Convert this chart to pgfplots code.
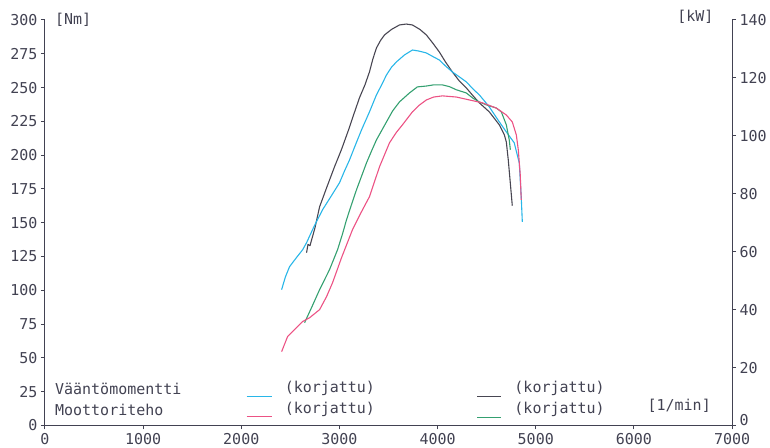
\documentclass[border=0pt]{standalone}
\usepackage{pgfplots}
\pgfplotsset{compat=1.18}
\usepackage{fontspec}
\setmainfont{DejaVu Sans Mono}

\definecolor{ink}{RGB}{66,66,82}
\definecolor{cdark}{RGB}{72,70,82}
\definecolor{ccyan}{RGB}{40,182,232}
\definecolor{cgreen}{RGB}{52,160,112}
\definecolor{cpink}{RGB}{236,82,132}

\newcommand{\dm}{\fontsize{15}{15}\selectfont}

\pgfplotsset{
  base/.style={
    width=688pt, height=406pt, scale only axis,
    xmin=0, xmax=7000,
    clip=false,
    tick align=outside,
    major tick length=4pt,
    axis line style={ink, line width=1.1pt, -},
    tick style={ink, line width=1pt},
    tick label style={font=\dm, text=ink},
    /pgf/number format/assume math mode=true,
    /pgf/number format/1000 sep={},
  },
  curve/.style={line width=1.1pt, line join=round},
}

\begin{document}
\begin{tikzpicture}
% torque axis (left)
\begin{axis}[base,
    axis x line*=bottom, axis y line*=left,
    ymin=0, ymax=300,
    xtick={0,1000,...,7000},
    ytick={0,25,...,300},
]
\path (rel axis cs:-0.0654,-0.0468) rectangle (rel axis cs:1.0538,1.0493);

% Vaeaentoemomentti, dark
\addplot[curve, cdark] coordinates {
 (2665,127.8) (2680,134) (2700,133) (2750,146) (2798,161.8) (2870,176) (2950,191.4)
 (3020,204) (3093,218.7) (3150,231) (3204,242.4) (3260,252) (3306,261.6)
 (3340,271) (3377,279.3) (3420,285) (3459,288.9) (3530,293) (3611,296.3)
 (3680,297) (3744,296.3) (3820,293) (3886,288.9) (3950,283) (4018,276.3)
 (4080,269) (4150,261.6) (4220,255) (4293,249.7) (4360,244) (4425,238.7)
 (4527,232) (4629,222.4) (4680,215) (4700,209.8) (4720,196.5) (4740,180)
 (4761,162.6)
};
% Vaeaentoemomentti, cyan
\addplot[curve, ccyan] coordinates {
 (2411,100.5) (2450,110) (2492,117.5) (2560,124) (2625,130) (2665,135.2)
 (2740,147) (2828,159.6) (2910,169) (3001,179.6) (3050,188) (3103,196.5)
 (3160,207) (3225,218.7) (3306,232) (3377,244.6) (3430,252) (3479,259.3)
 (3530,265) (3581,269) (3662,274.1) (3744,277.8) (3810,277) (3886,275.6)
 (3950,273) (4018,270.4) (4080,266) (4150,261.6) (4220,258) (4293,254.2)
 (4360,249) (4425,244.6) (4527,235.7) (4629,224.6) (4700,217.2) (4781,209.1)
 (4832,194.3) (4852,169.2) (4863,150.7)
};

% legend
\node[anchor=west, font=\dm, text=ink, inner sep=0pt] at (axis cs:102,27.3) {Vääntömomentti};
\node[anchor=west, font=\dm, text=ink, inner sep=0pt] at (axis cs:102,11.8) {Moottoriteho};
\draw[ccyan, line width=1.3pt] (axis cs:2055,21.4) -- (axis cs:2309,21.4);
\draw[cpink, line width=1.3pt] (axis cs:2055,6.7) -- (axis cs:2309,6.7);
\draw[cdark, line width=1.3pt] (axis cs:4405,21.4) -- (axis cs:4649,21.4);
\draw[cgreen, line width=1.3pt] (axis cs:4405,5.9) -- (axis cs:4649,5.9);
\node[anchor=west, font=\dm, text=ink, inner sep=0pt] at (axis cs:2441,27.3) {(korjattu)};
\node[anchor=west, font=\dm, text=ink, inner sep=0pt] at (axis cs:2441,11.8) {(korjattu)};
\node[anchor=west, font=\dm, text=ink, inner sep=0pt] at (axis cs:4781,27.3) {(korjattu)};
\node[anchor=west, font=\dm, text=ink, inner sep=0pt] at (axis cs:4781,11.8) {(korjattu)};
\node[anchor=east, font=\dm, text=ink, inner sep=0pt] at (axis cs:6785,14.8) {[1/min]};
\node[anchor=west, font=\dm, text=ink, inner sep=0pt] at (axis cs:102,300) {[Nm]};
\node[anchor=west, font=\dm, text=ink, inner sep=0pt] at (axis cs:6440,302) {[kW]};
\end{axis}

% power axis (right)
\begin{axis}[base,
    axis x line=none, axis y line*=right,
    ymin=0, ymax=140,
    ytick={20,40,...,140},
    extra y ticks={0},
    extra y tick style={yticklabel style={yshift=5pt}},
]
% Moottoriteho, green
\addplot[curve, cgreen] coordinates {
 (2645,35.5) (2720,41) (2798,46.9) (2899,53.8) (2981,60.7) (3030,66) (3072,71.0)
 (3120,76) (3174,81.4) (3276,90.7) (3330,95) (3377,98.6) (3479,104.8)
 (3540,108.5) (3611,111.7) (3713,114.8) (3794,116.9) (3886,117.2) (3960,117.6)
 (4049,117.6) (4120,117) (4191,115.9) (4293,114.8) (4360,113) (4425,111.7)
 (4496,110.7) (4598,109.6) (4649,108.3) (4700,103.8) (4730,98.6) (4741,95.2)
};
% Moottoriteho, pink
\addplot[curve, cpink] coordinates {
 (2411,25.5) (2472,30.7) (2543,33.1) (2625,35.9) (2696,37.2) (2798,40.0)
 (2869,44.5) (2930,49.3) (3021,57.9) (3133,67.6) (3220,73.5) (3306,79.0)
 (3408,89.3) (3510,97.6) (3580,101.2) (3642,103.8) (3744,108.3) (3810,110.5)
 (3886,112.4) (3960,113.4) (4049,113.8) (4191,113.4) (4323,112.4) (4456,111.4)
 (4598,109.6) (4700,107.2) (4761,104.8) (4802,100.3) (4822,95.2) (4842,86.5)
 (4852,77.9)
};
\end{axis}
\end{tikzpicture}
\end{document}
